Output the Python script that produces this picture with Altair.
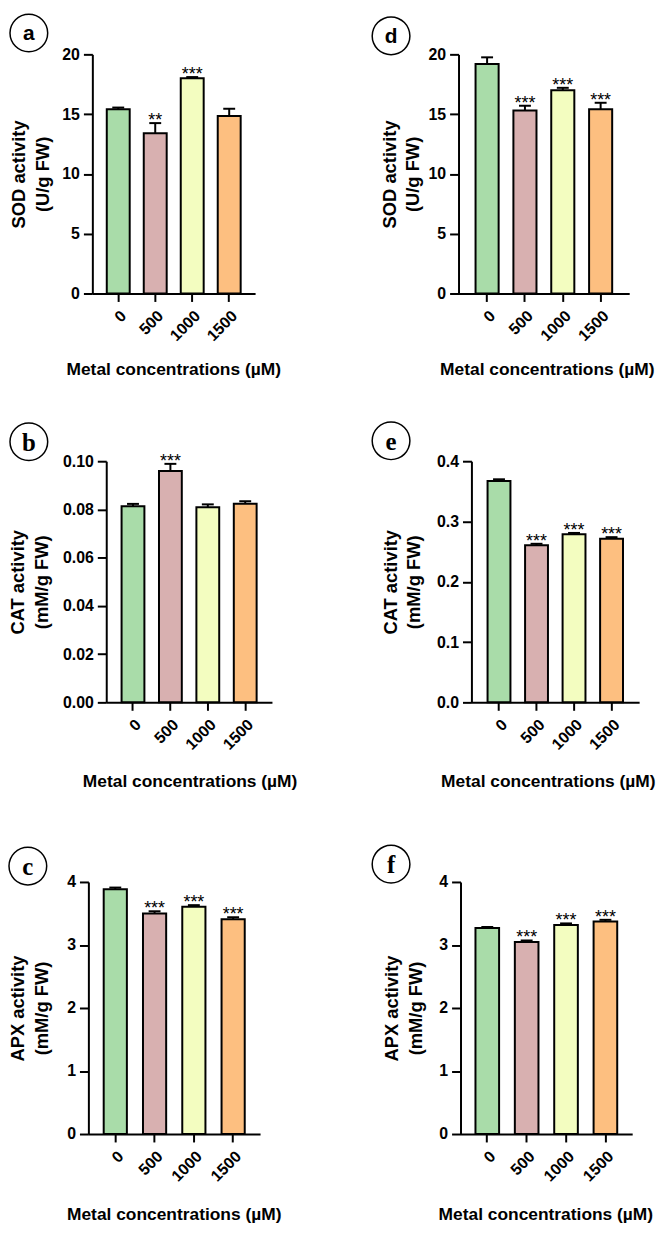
import altair as alt
import pandas as pd

conc = ["0", "500", "1000", "1500"]
bar_colors = ["#a9dca9", "#d8b0b0", "#f3fdc0", "#fdbf80"]

a_mean = [15.4, 13.4, 18.0, 14.85]
a_err = [0.15, 0.85, 0.1, 0.6]
a_sig = ["", "**", "***", ""]

b_mean = [0.0813, 0.0959, 0.0809, 0.0824]
b_err = [0.001, 0.003, 0.0012, 0.001]
b_sig = ["", "***", "", ""]

c_mean = [3.886, 3.50, 3.607, 3.41]
c_err = [0.025, 0.035, 0.025, 0.03]
c_sig = ["", "***", "***", "***"]

d_mean = [19.2, 15.3, 17.0, 15.4]
d_err = [0.55, 0.4, 0.2, 0.55]
d_sig = ["", "***", "***", "***"]

e_mean = [0.367, 0.2605, 0.279, 0.2715]
e_err = [0.003, 0.0025, 0.002, 0.0025]
e_sig = ["", "***", "***", "***"]

f_mean = [3.27, 3.048, 3.317, 3.374]
f_err = [0.015, 0.025, 0.025, 0.025]
f_sig = ["", "***", "***", "***"]

sod_title = ["SOD activity", "(U/g FW)"]
cat_title = ["CAT activity", "(mM/g FW)"]
apx_title = ["APX activity", "(mM/g FW)"]
x_title = "Metal concentrations (µM)"

sod_ticks = [0, 5, 10, 15, 20]
cat_b_ticks = [0, 0.02, 0.04, 0.06, 0.08, 0.10]
cat_e_ticks = [0, 0.1, 0.2, 0.3, 0.4]
apx_ticks = [0, 1, 2, 3, 4]

SANS = "Liberation Sans"
SERIF = "Liberation Serif"


def panel(letter, mean, err, sig, ytitle, ticks, fmt, sx, W, top, H, pin, pout,
          yext, ypad, cx, cy, lfont, lsize, xpad, tx):
    df = pd.DataFrame({"conc": conc, "mean": mean, "err": err, "sig": sig})
    df["top"] = df["mean"] + df["err"]
    base = alt.Chart(df)
    xenc = alt.X(
        "conc:N", sort=conc,
        scale=alt.Scale(paddingInner=pin, paddingOuter=pout, range=[sx, sx + W]),
        axis=alt.Axis(title=x_title, labelAngle=-45, tickSize=8, labelPadding=6,
                      minExtent=48, maxExtent=48, titlePadding=xpad,
                      labelOverlap=False, titleFontSize=17.5, titleX=tx),
    )
    yscale = alt.Scale(domain=[0, ticks[-1]], nice=False, zero=True, range=[top + H, top])
    yenc = alt.Y(
        "mean:Q", scale=yscale,
        axis=alt.Axis(title=ytitle, values=ticks, format=fmt, tickSize=9,
                      labelPadding=4, minExtent=yext, maxExtent=yext, offset=-sx,
                      titlePadding=ypad, titleFontSize=18.5, titleLineHeight=24),
    )
    bars = base.mark_bar(stroke="black", strokeWidth=2).encode(
        x=xenc, y=yenc,
        color=alt.Color("conc:N", scale=alt.Scale(domain=conc, range=bar_colors), legend=None),
    )
    xs = alt.X("conc:N", sort=conc)
    rule = base.mark_rule(color="black", strokeWidth=2).encode(
        x=xs, y=alt.Y("mean:Q"), y2="top:Q")
    cap = base.mark_tick(color="black", thickness=2, size=12, opacity=1).encode(
        x=xs, y=alt.Y("top:Q"))
    stars = base.mark_text(font=SANS, fontSize=18, baseline="alphabetic", dy=3,
                           color="black").encode(x=xs, y=alt.Y("top:Q"), text="sig:N")
    lab = pd.DataFrame({"lab": [letter]})
    circ = alt.Chart(lab).mark_arc(theta=0, theta2=6.2832, radius=19.75, radius2=18.25,
                                   color="black").encode(
        x=alt.value(cx), y=alt.value(cy))
    txt = alt.Chart(lab).mark_text(font=lfont, fontSize=lsize, fontWeight="bold",
                                   baseline="middle", align="center", color="black").encode(
        x=alt.value(cx), y=alt.value(cy + 1), text="lab:N")
    return alt.layer(bars, rule, cap, stars, circ, txt).properties(width=sx + W, height=top + H)


pa = panel("a", a_mean, a_err, a_sig, sod_title, sod_ticks, "d", 4, 164, 0, 241, 0.38, 0.39,
           32, 8, -60, -21.5, SANS, 21, 20, 85.5)
pd_ = panel("d", d_mean, d_err, d_sig, sod_title, sod_ticks, "d", 0, 172, 0, 241, 0.39, 0.45,
            30, 6, -68, -18.6, SANS, 21, 20, 89)
pb = panel("b", b_mean, b_err, b_sig, cat_title, cat_b_ticks, ".2f", 18, 167, 0, 243, 0.39, 0.41,
           47, 8, -60, -19.6, SERIF, 25, 23, 102)
pe = panel("e", e_mean, e_err, e_sig, cat_title, cat_e_ticks, ".1f", 13, 169, 0, 243, 0.39, 0.43,
           38, 10, -68, -20.6, SERIF, 25, 23, 90)
pc = panel("c", c_mean, c_err, c_sig, apx_title, apx_ticks, "d", 0, 173, 12, 254, 0.41, 0.39,
           27, 10, -61, -4, SERIF, 25, 24, 86)
pf = panel("f", f_mean, f_err, f_sig, apx_title, apx_ticks, "d", 2, 173, 12, 254, 0.40, 0.38,
           25, 10, -68, -5.9, SERIF, 25, 24, 87.5)

chart = alt.concat(
    pa, pd_, pb, pe, pc, pf, columns=2,
    spacing={"row": 169, "column": 188}, bounds="flush", align="each",
).properties(padding=0).configure_view(stroke=None).configure_axis(
    grid=False, domainColor="black", domainWidth=2, tickColor="black", tickWidth=2,
    labelFont=SANS, labelFontWeight="bold", labelFontSize=16, labelColor="black",
    titleFont=SANS, titleFontWeight="bold", titleColor="black",
).configure_text(font=SANS)

chart.save("out.html", embed_options={"renderer": "svg", "actions": False})
